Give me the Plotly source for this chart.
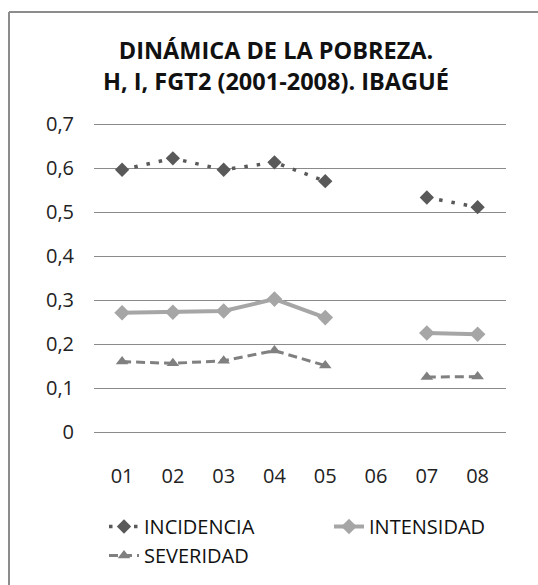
import plotly.graph_objects as go

years = ["01", "02", "03", "04", "05", "06", "07", "08"]
incidencia = [0.596, 0.622, 0.596, 0.613, 0.570, None, 0.533, 0.511]
intensidad = [0.271, 0.272, 0.275, 0.302, 0.260, None, 0.225, 0.222]
severidad = [0.160, 0.156, 0.162, 0.185, 0.151, None, 0.125, 0.126]
y_ticks = [0, 0.1, 0.2, 0.3, 0.4, 0.5, 0.6, 0.7]
y_labels = ["0", "0,1", "0,2", "0,3", "0,4", "0,5", "0,6", "0,7"]
title_lines = ["DINÁMICA DE LA POBREZA.", "H, I, FGT2 (2001-2008). IBAGUÉ"]

W, H = 538, 585
FONT = "Open Sans"
PAD = 0.004
PX_PER_UNIT = 440.0

fig = go.Figure()
fig.add_trace(go.Scatter(
    x=years, y=incidencia, name="INCIDENCIA", mode="lines+markers",
    line=dict(color="#595959", width=3.5, dash="3.5px,9px"),
    marker=dict(symbol="diamond", size=11, color="#595959"),
    connectgaps=False))
fig.add_trace(go.Scatter(
    x=years, y=intensidad, name="INTENSIDAD", mode="lines+markers",
    line=dict(color="#A6A6A6", width=4),
    marker=dict(symbol="diamond", size=12, color="#A6A6A6"),
    connectgaps=False))
fig.add_trace(go.Scatter(
    x=years, y=severidad, name="SEVERIDAD", mode="lines+markers",
    line=dict(color="#808080", width=3, dash="9px,5px"),
    marker=dict(symbol="triangle-up", size=11, color="#808080"),
    connectgaps=False))

y_bottom_px = 432 + PAD * PX_PER_UNIT
y_top_px = 124 - PAD * PX_PER_UNIT

fig.update_layout(
    width=W, height=H,
    margin=dict(l=0, r=0, t=0, b=0, autoexpand=False),
    paper_bgcolor="white", plot_bgcolor="white",
    font=dict(family=FONT, size=20, color="#222222"),
    hovermode=False,
    xaxis=dict(
        domain=[94 / W, 505.7 / W], type="category", automargin=False,
        showgrid=False, showline=False, zeroline=False, ticks="",
        tickfont=dict(size=20), ticklabelstandoff=28),
    yaxis=dict(
        domain=[1 - y_bottom_px / H, 1 - y_top_px / H],
        range=[-PAD, 0.7 + PAD],
        automargin=False,
        tickvals=y_ticks, ticktext=y_labels,
        showgrid=True, gridcolor="#8a8a8a", gridwidth=1,
        showline=False, zeroline=False, ticks="",
        tickfont=dict(size=20), ticklabelstandoff=19),
    legend=dict(
        orientation="h", x=104 / W, xanchor="left",
        y=1 - 507 / H, yanchor="top",
        entrywidth=180, entrywidthmode="pixels",
        font=dict(size=20, color="#111111"),
        bgcolor="rgba(0,0,0,0)", tracegroupgap=0),
    annotations=[dict(
        text="<b>" + "<br>".join(title_lines) + "</b>",
        x=276 / W, y=1 - 65 / H, xref="paper", yref="paper",
        xanchor="center", yanchor="middle", showarrow=False,
        font=dict(family=FONT, size=23.5, color="#111111"))],
    shapes=[
        dict(type="line", xref="paper", yref="paper",
             x0=9 / W, x1=1.02, y0=1 - 12 / H, y1=1 - 12 / H,
             line=dict(color="#8c8c8c", width=2)),
        dict(type="line", xref="paper", yref="paper",
             x0=9 / W, x1=9 / W, y0=1 - 12 / H, y1=-0.02,
             line=dict(color="#8c8c8c", width=2)),
    ],
)

fig.write_html(
    "out.html",
    config={"displayModeBar": False, "staticPlot": True},
    post_script="document.body.style.margin='0';document.body.style.overflow='hidden';",
)
